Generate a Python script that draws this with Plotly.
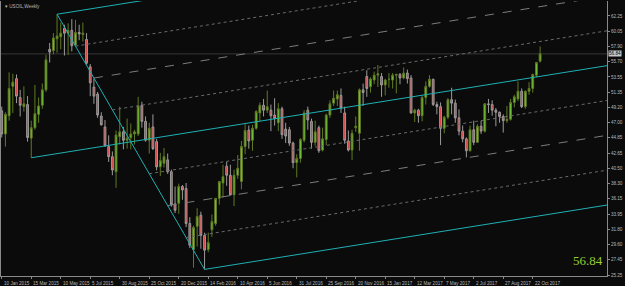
import plotly.graph_objects as go

# ---------------- data (USOIL weekly, week index 0 = first visible bar) ----------------
opens = [48.7, 45.4, 48.0, 52.2, 53.3, 50.6, 49.3, 49.6, 44.8, 46.3,
         48.2, 49.5, 51.7, 57.5, 57.3, 59.0, 59.3, 60.5, 59.8, 60.2,
         58.1, 59.9, 59.6, 58.9, 55.0, 52.1, 51.1, 47.95, 46.4, 43.6,
         42.15, 40.0, 45.0, 45.7, 44.5, 44.9, 45.4, 45.4, 49.5, 47.2,
         44.5, 46.4, 44.3, 40.7, 41.2, 41.7, 40.0, 35.4, 35.5, 37.9,
         37.6, 32.6, 28.9, 32.2, 33.8, 30.9, 28.9, 31.7, 32.6, 36.2,
         38.4, 40.8, 39.5, 36.7, 39.5, 38.6, 43.6, 45.95, 44.5, 46.2,
         48.4, 49.5, 48.8, 48.8, 48.1, 47.0, 49.0, 46.1, 46.0, 44.1,
         41.3, 41.9, 44.5, 48.8, 47.2, 44.2, 46.3, 43.1, 44.6, 48.1,
         49.8, 50.4, 50.9, 48.4, 44.4, 43.1, 46.3, 45.5, 51.7, 53.6,
         52.15, 53.1, 53.8, 53.6, 52.4, 53.2, 53.1, 53.8, 53.9, 53.4,
         54.1, 53.4, 48.4, 48.8, 48.0, 50.6, 52.2, 53.2, 49.6, 49.3,
         46.2, 47.8, 50.3, 49.8, 47.7, 45.8, 44.7, 43.0, 46.0, 44.2,
         46.5, 45.8, 49.7, 49.6, 48.8, 48.5, 47.9, 47.3, 47.5, 49.9,
         50.4, 51.5, 49.3, 51.5, 51.9, 53.8, 55.8]
highs = [49.3, 48.5, 54.2, 54.0, 53.9, 51.7, 52.2, 50.8, 47.3, 52.4,
         50.6, 52.6, 56.7, 58.4, 59.8, 62.5, 61.3, 61.0, 61.2, 61.8,
         61.7, 61.0, 61.3, 59.8, 55.4, 53.3, 51.4, 48.5, 47.4, 45.2,
         42.9, 45.9, 49.3, 46.4, 47.6, 46.9, 46.0, 50.7, 50.0, 47.9,
         47.0, 48.2, 44.7, 42.7, 43.4, 42.6, 40.3, 37.9, 38.3, 38.1,
         38.4, 33.5, 32.3, 34.8, 34.3, 31.3, 31.3, 33.9, 36.2, 38.7,
         41.0, 41.4, 41.0, 40.3, 42.4, 44.4, 46.8, 46.6, 46.7, 48.8,
         49.9, 50.4, 51.6, 49.6, 50.5, 49.8, 49.3, 47.0, 46.4, 44.3,
         42.5, 44.8, 48.8, 49.3, 47.6, 47.3, 46.6, 46.3, 48.3, 50.2,
         51.6, 51.6, 51.9, 49.3, 45.9, 46.0, 47.9, 51.9, 52.6, 54.5,
         53.5, 54.3, 55.25, 54.1, 53.3, 54.1, 54.1, 54.0, 54.1, 54.9,
         54.6, 53.8, 49.0, 49.0, 50.9, 52.9, 53.8, 53.3, 50.0, 49.9,
         48.0, 50.5, 52.0, 50.3, 48.9, 46.6, 44.9, 46.6, 47.3, 46.8,
         47.3, 49.8, 50.4, 50.2, 49.1, 48.6, 48.2, 49.4, 50.4, 51.0,
         52.9, 51.9, 51.6, 52.8, 54.0, 55.7, 57.9]
lows = [44.9, 43.6, 47.3, 48.4, 49.8, 47.9, 48.6, 44.3, 42.0, 46.0,
        47.0, 49.0, 51.4, 55.6, 56.8, 57.0, 57.5, 56.6, 56.7, 57.2,
        57.9, 58.8, 58.6, 55.3, 50.8, 49.7, 47.7, 46.6, 43.6, 41.4,
        39.5, 37.7, 43.9, 43.2, 43.3, 43.2, 43.9, 45.1, 46.3, 44.3,
        42.6, 43.1, 40.2, 39.4, 40.6, 39.7, 35.0, 34.1, 34.0, 36.0,
        32.1, 29.1, 26.3, 29.3, 29.0, 26.05, 28.5, 30.7, 32.3, 35.3,
        36.3, 38.0, 36.6, 35.1, 39.0, 37.5, 42.5, 43.3, 43.0, 46.0,
        47.2, 47.9, 48.4, 45.8, 46.6, 45.8, 44.7, 44.1, 43.7, 40.5,
        39.2, 41.3, 44.2, 46.0, 43.3, 43.7, 42.7, 42.9, 43.8, 47.7,
        49.4, 49.4, 48.4, 44.0, 42.9, 41.7, 45.7, 43.0, 49.4, 50.7,
        51.3, 52.5, 52.1, 50.7, 50.9, 52.0, 51.9, 51.2, 52.5, 53.2,
        52.6, 48.3, 47.1, 47.0, 47.2, 49.6, 52.0, 49.4, 48.2, 43.8,
        45.5, 47.5, 48.2, 47.0, 45.2, 44.2, 42.05, 42.9, 43.8, 44.1,
        45.4, 45.6, 48.4, 48.0, 46.5, 47.0, 45.6, 47.0, 47.3, 49.2,
        50.1, 49.1, 49.0, 51.0, 51.3, 53.5, 55.6]
closes = [45.4, 48.2, 51.9, 52.8, 50.8, 49.5, 49.7, 44.9, 46.3, 48.3,
          49.4, 51.7, 56.0, 57.1, 59.1, 59.4, 59.8, 59.8, 60.2, 58.0,
          59.9, 59.7, 59.8, 55.5, 52.7, 50.8, 48.1, 46.7, 43.7, 42.15,
          40.25, 45.25, 45.7, 44.5, 44.8, 45.4, 45.7, 49.4, 47.2, 44.5,
          46.2, 43.3, 40.7, 41.6, 42.15, 40.0, 35.3, 34.5, 37.9, 37.4,
          32.6, 29.5, 32.05, 33.6, 30.9, 28.8, 29.9, 32.9, 36.2, 38.6,
          39.3, 39.5, 36.7, 39.5, 40.5, 43.6, 45.9, 44.4, 46.2, 48.6,
          49.5, 48.8, 49.3, 48.0, 47.6, 49.0, 45.3, 45.1, 44.1, 41.3,
          41.9, 44.6, 48.4, 47.4, 44.2, 45.7, 43.0, 44.7, 48.1, 49.7,
          50.5, 51.0, 49.1, 44.5, 43.1, 45.5, 46.5, 51.7, 51.3, 51.9,
          53.25, 53.8, 54.0, 52.4, 53.1, 53.2, 53.8, 53.9, 53.4, 54.1,
          53.3, 48.4, 48.8, 48.0, 50.6, 52.2, 53.2, 49.6, 49.3, 46.2,
          47.8, 50.3, 49.8, 47.7, 45.8, 44.7, 43.0, 46.0, 44.2, 46.5,
          45.8, 49.7, 49.6, 48.8, 48.5, 47.9, 47.3, 47.5, 49.9, 50.7,
          51.5, 49.3, 51.5, 51.9, 53.9, 55.6, 56.84]
weeks = list(range(len(opens)))

price_ticks = [62.25, 60.05, 57.90, 55.70, 53.55, 51.35, 49.20, 47.00, 44.85,
               42.65, 40.50, 38.30, 36.15, 33.95, 31.80, 29.60, 27.45, 25.25]
date_labels = ["10 Jan 2015", "15 Mar 2015", "10 May 2015", "5 Jul 2015", "30 Aug 2015",
               "25 Oct 2015", "20 Dec 2015", "14 Feb 2016", "10 Apr 2016", "5 Jun 2016",
               "31 Jul 2016", "25 Sep 2016", "20 Nov 2016", "15 Jan 2017", "12 Mar 2017",
               "7 May 2017", "2 Jul 2017", "27 Aug 2017", "22 Oct 2017"]
date_weeks = [8 * k for k in range(len(date_labels))]

last_price = 56.84

# Andrews pitchfork anchors (week index, price): handle, swing high, swing low
pf_weeks = [8, 15, 55]
pf_prices = [42.0, 62.5, 26.05]
pf_levels = [0.125, 0.25, 0.375, 0.625, 0.75, 0.875]
pf_level_dash = ["dot", "dash", "dot", "dot", "dash", "dot"]

# ---------------- figure ----------------
BG = "#0b0b0b"
CYAN = "#1fb0b4"
fig = go.Figure()

fig.add_trace(go.Candlestick(
    x=weeks, open=opens, high=highs, low=lows, close=closes,
    increasing=dict(line=dict(color="#5f7a22", width=1), fillcolor="#74cc3a"),
    decreasing=dict(line=dict(color="#9a9a9a", width=1), fillcolor="#e23a3c"),
    whiskerwidth=0, showlegend=False, hoverinfo="skip"))

x_end = 180
(x0, x1, x2), (y0, y1, y2) = pf_weeks, pf_prices
mx, my = (x1 + x2) / 2, (y1 + y2) / 2
slope = (my - y0) / (mx - x0)


def ray(xs, ys):
    return [xs, x_end], [ys, ys + slope * (x_end - xs)]


def add_line(xv, yv, color, dash="solid"):
    fig.add_trace(go.Scatter(x=xv, y=yv, mode="lines", showlegend=False, hoverinfo="skip",
                             line=dict(color=color, width=1, dash=dash)))


# median, upper, lower, and swing connector
for xs, ys in [(x0, y0), (x1, y1), (x2, y2)]:
    xv, yv = ray(xs, ys)
    add_line(xv, yv, CYAN)
add_line([x1, x2], [y1, y2], CYAN)

# intermediate levels
for f, d in zip(pf_levels, pf_level_dash):
    xs = x1 + f * (x2 - x1)
    ys = y1 + f * (y2 - y1)
    xv, yv = ray(xs, ys)
    add_line(xv, yv, "#7c7c7c" if d == "dash" else "#6a6a6a", d)

# bid price line
fig.add_shape(type="line", xref="paper", x0=0, x1=1, yref="y", y0=last_price, y1=last_price,
              line=dict(color="#383838", width=1), layer="below")

small = dict(family="Liberation Sans, Arial, sans-serif", size=4.6, color="#b8b8b8")

annotations = []
for w, lab in zip(date_weeks, date_labels):
    annotations.append(dict(x=w, xref="x", y=0, yref="paper", yanchor="top", xanchor="left",
                            yshift=-3, xshift=0, text=lab, showarrow=False, font=small))
annotations.append(dict(x=1, xref="paper", y=last_price, yref="y", xanchor="left", yanchor="middle",
                        xshift=1, text=f"{last_price:.2f}", showarrow=False,
                        font=dict(family="Liberation Sans, Arial, sans-serif", size=4.6, color="#000000"),
                        bgcolor="#c8c8c8", borderpad=0))
annotations.append(dict(x=0, xref="paper", y=1, yref="paper", xanchor="left", yanchor="top",
                        xshift=2, yshift=-1, text="▾ USOIL,Weekly", showarrow=False, font=small))
annotations.append(dict(x=1, xref="paper", y=27.3, yref="y", xanchor="right", yanchor="middle",
                        xshift=-2, text=f"{last_price:.2f}", showarrow=False,
                        font=dict(family="Liberation Serif", size=13, color="#9acd32")))

fig.update_layout(
    width=625, height=286,
    margin=dict(l=1, r=18, t=1, b=10, pad=0),
    paper_bgcolor=BG, plot_bgcolor=BG,
    showlegend=False,
    annotations=annotations,
    xaxis=dict(range=[-0.2, 164.14], rangeslider=dict(visible=False), showgrid=False,
               zeroline=False, showline=True, linecolor="#8a8a8a", linewidth=1,
               tickmode="array", tickvals=date_weeks, ticks="outside", ticklen=2,
               tickcolor="#8a8a8a", showticklabels=False, fixedrange=True),
    yaxis=dict(range=[25.11, 64.39], side="right", showgrid=False, zeroline=False,
               showline=True, linecolor="#8a8a8a", linewidth=1, mirror=True,
               tickmode="array", tickvals=price_ticks,
               ticktext=[f"{v:.2f}" for v in price_ticks],
               ticks="outside", ticklen=2, tickcolor="#8a8a8a", tickfont=small,
               fixedrange=True),
)

fig.write_html("out.html")
